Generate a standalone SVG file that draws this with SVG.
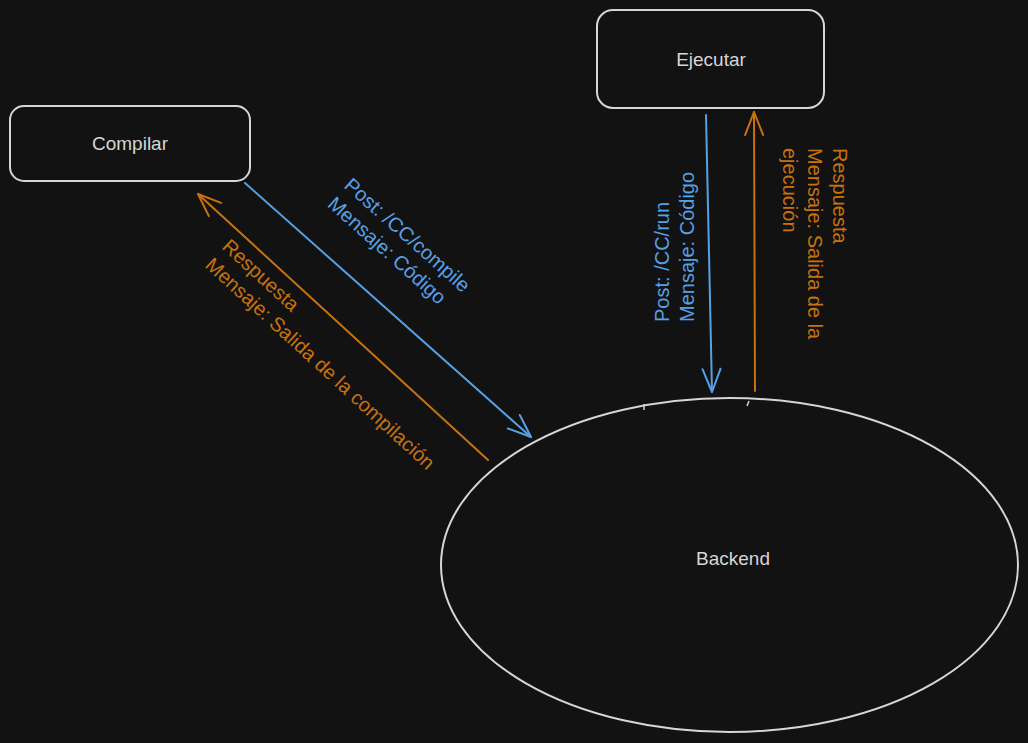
<svg xmlns="http://www.w3.org/2000/svg" width="1028" height="743" viewBox="0 0 1028 743">
<style>
.box{fill:#121212;stroke:#d6d6d6;stroke-width:2}
.lbl{font-family:"Liberation Sans",Arial,sans-serif;font-size:19px;fill:#d6d6d6;text-anchor:middle;dominant-baseline:central}
.edge{fill:none;stroke-width:2;stroke-linecap:round}
.blue{stroke:#55a1e6}
.orange{stroke:#c8710f}
.et{font-family:"Liberation Sans",Arial,sans-serif;font-size:20px}
.tb{fill:#55a1e6}
.to{fill:#c8710f}
</style>
<defs>
<marker id="ab" viewBox="-26 -13 28 26" refX="0" refY="0" markerWidth="28" markerHeight="26" markerUnits="userSpaceOnUse" orient="auto">
<path d="M-23,-9 L0,0 L-23,9" fill="none" stroke="#55a1e6" stroke-width="2" stroke-linecap="round" stroke-linejoin="round"/>
</marker>
<marker id="ao" viewBox="-26 -13 28 26" refX="0" refY="0" markerWidth="28" markerHeight="26" markerUnits="userSpaceOnUse" orient="auto">
<path d="M-23,-9 L0,0 L-23,9" fill="none" stroke="#c8710f" stroke-width="2" stroke-linecap="round" stroke-linejoin="round"/>
</marker>
</defs>
<rect x="0" y="0" width="1028" height="743" fill="#121212"/>
<g id="compilar">
<rect class="box" x="10" y="106" width="240" height="75" rx="14"/>
<text class="lbl" x="130" y="143">Compilar</text>
</g>
<g id="ejecutar">
<rect class="box" x="597" y="10" width="227" height="98" rx="16"/>
<text class="lbl" x="711" y="59">Ejecutar</text>
</g>
<g id="backend">
<ellipse class="box" cx="729.5" cy="565" rx="288.5" ry="167"/>
<path d="M644,404 L644,410 M749,401 L747,406" stroke="#d6d6d6" stroke-width="1.5" fill="none"/>
<text class="lbl" x="733" y="558">Backend</text>
</g>
<g id="connectors">
<path class="edge blue" d="M245,183 L531,437" marker-end="url(#ab)"/>
<path class="edge orange" d="M488,460 L198,194" marker-end="url(#ao)"/>
<path class="edge blue" d="M706,115 L712,392" marker-end="url(#ab)"/>
<path class="edge orange" d="M755,391 L754,112" marker-end="url(#ao)"/>
<text class="et tb" transform="translate(343,187) rotate(41.6)"><tspan x="0" y="0">Post: /CC/compile</tspan><tspan x="0" y="25">Mensaje: Código</tspan></text>
<text class="et to" transform="translate(221,248) rotate(42.5)"><tspan x="0" y="0">Respuesta</tspan><tspan x="0" y="25">Mensaje: Salida de la compilación</tspan></text>
<text class="et tb" transform="translate(669,322) rotate(-90)"><tspan x="0" y="0">Post: /CC/run</tspan><tspan x="0" y="25">Mensaje: Código</tspan></text>
<text class="et to" transform="translate(833,148) rotate(90)"><tspan x="0" y="0">Respuesta</tspan><tspan x="0" y="25">Mensaje: Salida de la</tspan><tspan x="0" y="50">ejecución</tspan></text>
</g>
</svg>
